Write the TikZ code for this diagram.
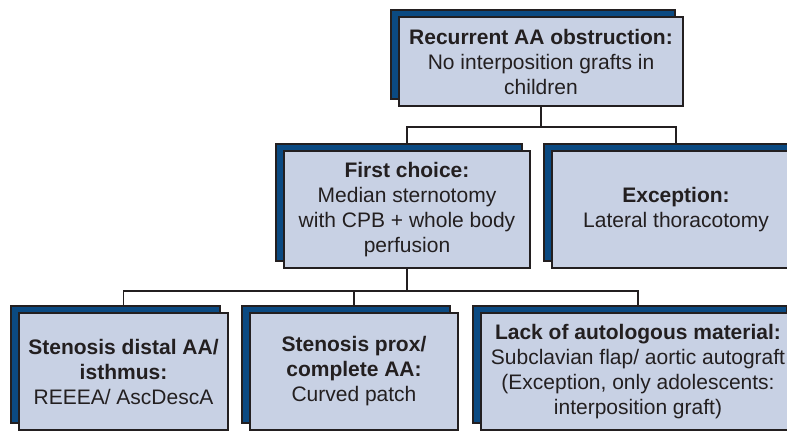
\documentclass[tikz,border=0pt]{standalone}
\usepackage{fontspec}
\setmainfont{Liberation Sans}
\usetikzlibrary{backgrounds}
\definecolor{boxfill}{HTML}{C8D1E4}
\definecolor{boxdark}{HTML}{0B4A82}
\definecolor{boxline}{HTML}{231F20}
\tikzset{
  frontbox/.style={draw=boxline, fill=boxfill, line width=1.3pt, inner sep=0pt,
    align=center, text=boxline, font=\fontsize{21}{25}\selectfont},
  backbox/.style={draw=boxline, fill=boxdark, line width=1.3pt, inner sep=0pt},
  conn/.style={draw=boxline, line width=1.3pt}
}
\begin{document}
\begin{tikzpicture}[x=1pt,y=-1pt]
\useasboundingbox (0,0) rectangle (787,431);
\clip (0,0) rectangle (787,431);
% top
\node[backbox, minimum width=284pt, minimum height=89pt] (topb) at (533,54.5) {};
\node[frontbox, minimum width=284pt, minimum height=89pt] (top) at (541,61.5)
  {\textbf{Recurrent AA obstruction:}\\No interposition grafts in\\children};
% second row
\node[backbox, minimum width=246pt, minimum height=117pt] (firstb) at (399,202.5) {};
\node[frontbox, minimum width=246pt, minimum height=117pt] (first) at (407,209.5)
  {\textbf{First choice:}\\Median sternotomy\\with CPB + whole body\\perfusion};
\node[backbox, minimum width=248pt, minimum height=117pt] (excb) at (668,202.5) {};
\node[frontbox, minimum width=248pt, minimum height=117pt] (exc) at (676,209.5)
  {\textbf{Exception:}\\Lateral thoracotomy};
% third row
\node[backbox, minimum width=209pt, minimum height=117pt] (b1b) at (115.5,364.5) {};
\node[frontbox, minimum width=209pt, minimum height=117pt] (b1) at (123.5,371.5)
  {\textbf{Stenosis distal AA/}\\\textbf{isthmus:}\\REEEA/ AscDescA};
\node[backbox, minimum width=208pt, minimum height=117pt] (b2b) at (346,364.5) {};
\node[frontbox, minimum width=208pt, minimum height=117pt] (b2) at (354,371.5)
  {\textbf{Stenosis prox/}\\\textbf{complete AA:}\\Curved patch};
\node[backbox, minimum width=314pt, minimum height=117pt] (b3b) at (630,364.5) {};
\node[frontbox, minimum width=314pt, minimum height=117pt] (b3) at (638,371.5)
  {\textbf{Lack of autologous material:}\\Subclavian flap/ aortic autograft\\(Exception, only adolescents:\\interposition graft)};
% connectors
\begin{scope}[on background layer]
\coordinate (j1) at (541,127);
\coordinate (j2) at (407,291);
\draw[conn] (top.south) -- (j1) -| (first.north);
\draw[conn] (j1) -| (exc.north);
\draw[conn] (first.south) -- (j2) -| (b1.north);
\draw[conn] (j2) -| (b2.north);
\draw[conn] (j2) -| (b3.north);
\end{scope}
\end{tikzpicture}
\end{document}
